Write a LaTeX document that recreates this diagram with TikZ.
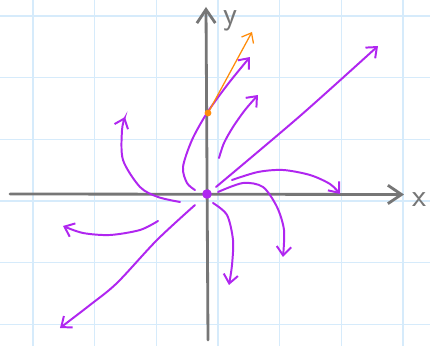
\documentclass[tikz,border=0pt]{standalone}
\usepackage{xcolor}
\usepackage{tikz}
\usetikzlibrary{positioning, arrows.meta}
\definecolor{trajpurple}{RGB}{176, 38, 240}
\definecolor{vecorange}{RGB}{255, 140, 10}
\definecolor{gridblue}{RGB}{214, 235, 251}
\definecolor{axisgray}{RGB}{118, 118, 118}

\begin{document}
\begin{tikzpicture}[
  x=0.025cm, y=-0.025cm,
  gridline/.style={draw=gridblue, line width=1.1pt},
  axis/.style={draw=axisgray, line width=2pt, line cap=round,
    -{Straight Barb[length=3.4mm, width=4.6mm, line width=2pt]}},
  traj/.style={draw=trajpurple, line width=1.4pt, line cap=round,
    -{Straight Barb[length=2.2mm, width=3.6mm, line width=1.4pt]}},
  vec/.style={draw=vecorange, line width=0.9pt, line cap=round,
    -{Straight Barb[length=2.1mm, width=3.4mm, line width=0.9pt]}},
  dot/.style={circle, inner sep=0pt, minimum size=#1},
  axlabel/.style={text=axisgray, inner sep=0pt,
    font=\sffamily\fontsize{23}{25}\selectfont}
]
\useasboundingbox (0,0) rectangle (430,346);
\fill[white] (0,0) rectangle (430,346);

% grid
\foreach \k in {0,...,6}
  \draw[gridline] ({33+61.67*\k},0) -- ({33+61.67*\k},346);
\foreach \k in {0,...,5}
  \draw[gridline] (0,{16+61.67*\k}) -- (430,{16+61.67*\k});

% axes
\coordinate (xs) at (10,194);
\coordinate (xe) at (404,194.5);
\coordinate (ys) at (208,340);
\coordinate (ye) at (206,7);
\draw[axis] (xs) -- (xe);
\draw[axis] (ys) -- (ye);
\node[axlabel] (xl) at (419,200) {x};
\node[axlabel] (yl) at (230,21) {y};

% trajectories
\draw[traj] plot[smooth] coordinates {(216,187) (300,116) (378,46)};
\draw[traj] plot[smooth] coordinates {(195,190) (187,183) (183,167) (192,140)
  (207,113) (228,84) (250,57)};
\draw[traj] plot[smooth] coordinates {(219,158) (224,143) (233,127) (245,110) (258,95)};
\draw[traj] plot[smooth] coordinates {(232,180) (258,172) (283,170) (310,175)
  (330,184) (340,194)};
\draw[traj] plot[smooth] coordinates {(218,192) (243,183) (263,187) (277,207)
  (284,230) (283,257)};
\draw[traj] plot[smooth] coordinates {(213,203) (227,215) (233,240) (232,265) (229,285)};
\draw[traj] plot[smooth] coordinates {(195,205) (157,240) (117,283) (90,305) (60,328)};
\draw[traj] plot[smooth] coordinates {(158,221) (140,230) (110,235) (83,233) (63,226)};
\draw[traj] plot[smooth] coordinates {(180,202) (158,197) (140,187) (123,160)
  (122,130) (125,117)};

% fixed point and vector
\node[dot=2.4mm, fill=trajpurple] (O) at (207,194) {};
\node[dot=1.7mm, fill=vecorange] (P) at (208,113) {};
\coordinate (Ptip) at (252,32);
\draw[vec] (P.center) -- (Ptip);
\end{tikzpicture}
\end{document}
